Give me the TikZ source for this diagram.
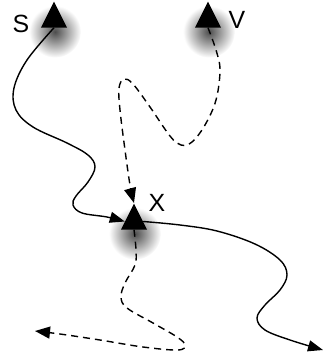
\documentclass[tikz,border=0pt]{standalone}
\usepackage{fontspec}
\setmainfont{Liberation Sans}
\usetikzlibrary{arrows.meta,shapes.geometric,backgrounds}
\tikzstyle{vtx}=[isosceles triangle,isosceles triangle stretches,shape border rotate=90,
  fill=black,draw=none,inner sep=0pt,minimum width=26bp,minimum height=26bp]
\tikzstyle{vlabel}=[font=\fontsize{25}{30}\selectfont,inner sep=0pt]
\tikzstyle{halo}=[inner color=black!70,outer color=white]
\tikzstyle{solidwire}=[-{Triangle[length=15bp,width=11bp]},line width=1.4bp]
\tikzstyle{dashwire}=[-{Triangle[length=15bp,width=12bp]},line width=1.4bp,dash pattern=on 7bp off 5bp]

\begin{document}
\begin{tikzpicture}[x=1bp,y=-1bp]
    \useasboundingbox (0,0) rectangle (325,356);
    % ---- stations ----
    \node[vtx] (S) at (54,19.5)  {};
    \node[vtx] (V) at (208,19.5) {};
    \node[vtx] (X) at (134,221.5) {};
    \node[vlabel] (Slbl) at (21,24)  {S};
    \node[vlabel] (Vlbl) at (237,20) {V};
    \node[vlabel] (Xlbl) at (157,203) {X};
    \coordinate (endA) at (35,331);
    \coordinate (endB) at (323,350);

    % ---- soft shadows under the triangles ----
    \begin{scope}[on background layer]
      \foreach \v in {S,V,X} {\shade[halo] (\v.south) ++(1,4) circle (26bp);}
    \end{scope}

    % ---- solid track S -> X -> out ----
    \draw[solidwire] plot[smooth,tension=0.6] coordinates {(S.south) (27,60) (14,88) (16,110) (33,127)
      (67,143) (88,155) (95,167) (88,182) (76,196) (73,205) (82,213) (107,217) (X.west)};
    \draw[solidwire] plot[smooth,tension=0.6] coordinates {(X.east) (180,225) (217,231) (255,244)
      (280,260) (287,275) (280,290) (265,305) (257,318) (265,330) (290,340) (endB)};

    % ---- dashed track V -> X -> out ----
    \draw[dashwire] plot[smooth,tension=0.6] coordinates {(V.south) (216,50) (220,70) (216,100)
      (205,125) (192,142) (181,145) (170,136) (150,107) (133,84) (124,79) (119,88) (120,110)
      (125,150) (130,185) (X.north)};
    \draw[dashwire] plot[smooth,tension=0.6] coordinates {(X.south) (136,250) (135,265) (125,283)
      (121,297) (127,308) (153,323) (177,337) (185,345) (178,350) (143,347) (100,340) (60,334) (endA)};
  \end{tikzpicture}
\end{document}
